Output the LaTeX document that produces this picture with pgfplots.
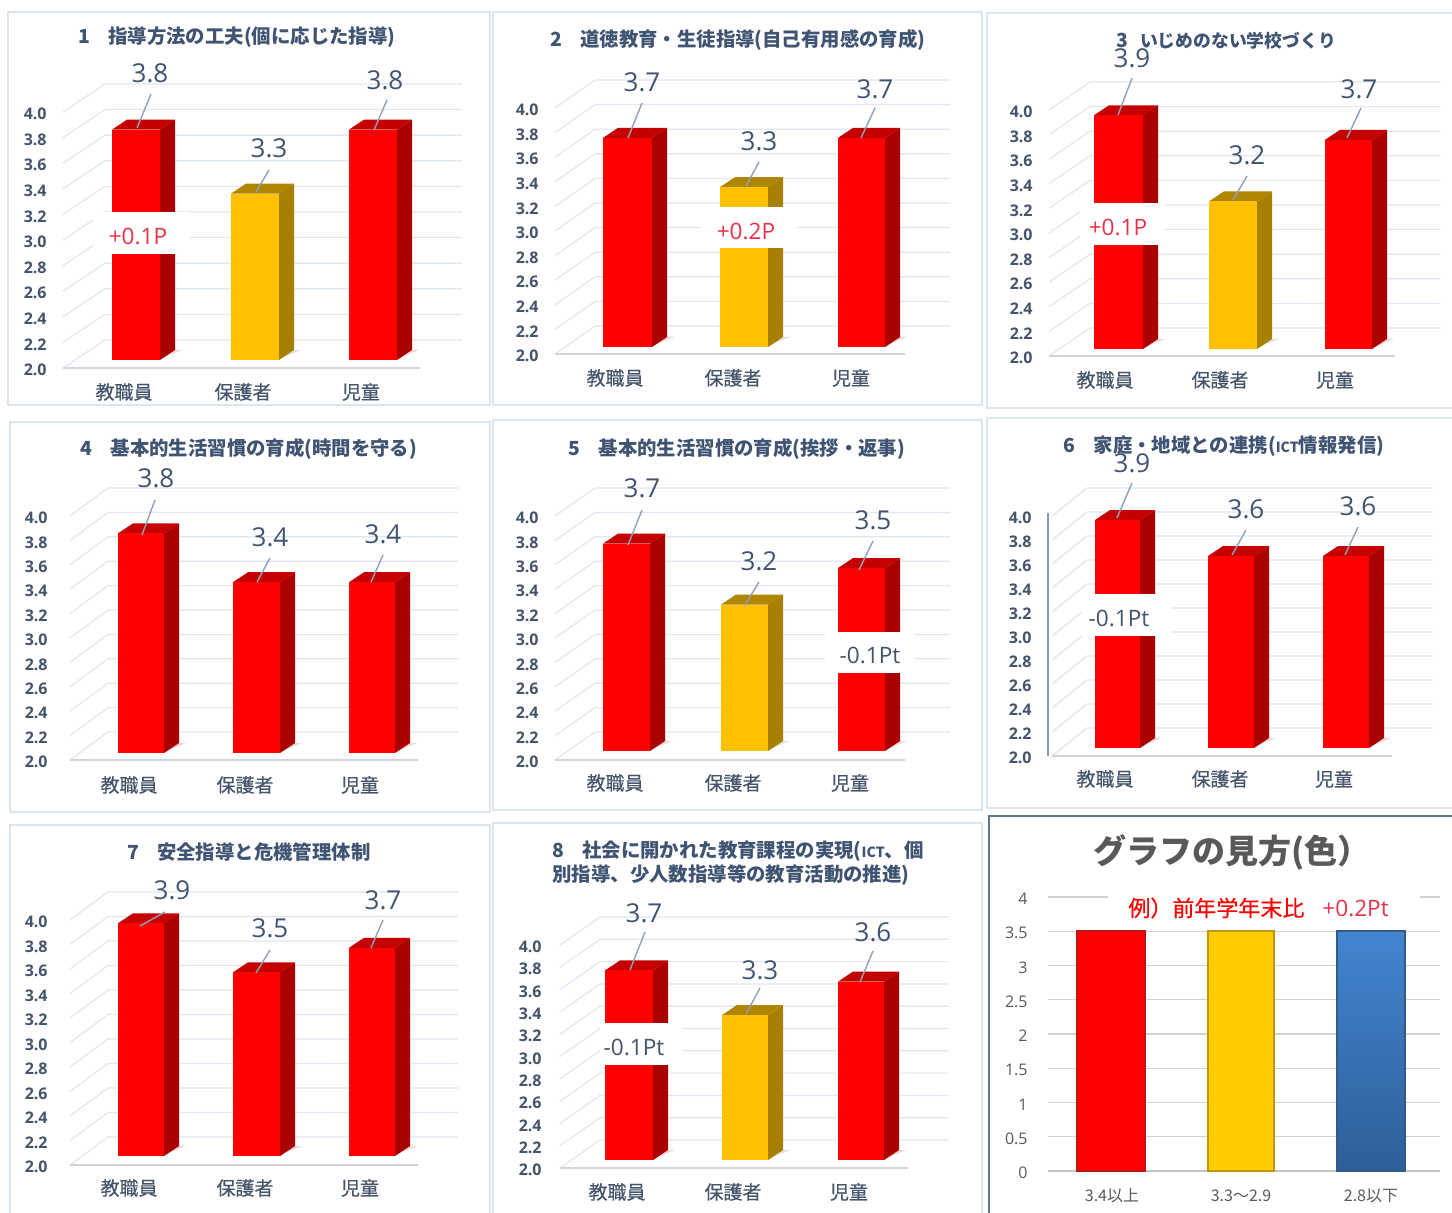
\documentclass[border=0pt]{standalone}
\usepackage{pgfplots}
\pgfplotsset{compat=1.18}
\usepackage{fontspec}
\setmainfont{Open Sans}
\newfontfamily\cjk{Noto Sans CJK JP}
\newfontfamily\cjkm[FakeBold=0.35]{Noto Sans CJK JP}
\definecolor{ink}{HTML}{3F5472}
\definecolor{tickc}{HTML}{44546A}
\definecolor{gridc}{HTML}{DFE7F0}
\definecolor{framec}{HTML}{DCE6EF}
\definecolor{leadc}{HTML}{8FA2BA}
\definecolor{barRfront}{HTML}{FF0000}
\definecolor{barRside}{HTML}{AA0000}
\definecolor{barRtop}{HTML}{C40000}
\definecolor{barRshadow}{HTML}{F2D5D5}
\definecolor{barYfront}{HTML}{FFC000}
\definecolor{barYside}{HTML}{A88000}
\definecolor{barYtop}{HTML}{B08600}
\definecolor{barYshadow}{HTML}{E2E0D8}
\definecolor{plusc}{HTML}{E8324A}
\definecolor{grayt}{HTML}{595959}

% x coordinates are page pixels, y coordinates are the chart's values
\newcommand\OneBar[4]{%
  \pgfmathsetmacro\barxc{(#1+#2)/2}%
  \pgfmathsetmacro\barwdt{#2-#1}%
  \pgfmathsetmacro\barxe{#2+15}%
  \pgfmathsetmacro\barxf{#1+15}%
  \pgfmathsetmacro\barxs{#2+22}%
  \pgfmathsetmacro\barve{#3+10/\pU}%
  \pgfmathsetmacro\barbe{2+10/\pU}%
  \pgfmathsetmacro\barbs{2+1/\pU}%
  \edef\tmp{\noexpand\addplot[fill=#4shadow,draw=none] coordinates {(#2,\barbs) (\barxe,\barbe) (\barxs,\barbe)} --cycle;}\tmp
  \edef\tmp{\noexpand\addplot[fill=#4side,draw=none] coordinates {(#2,2) (\barxe,\barbe) (\barxe,\barve) (#2,#3)} --cycle;}\tmp
  \edef\tmp{\noexpand\addplot[fill=#4top,draw=none] coordinates {(#1,#3) (\barxf,\barve) (\barxe,\barve) (#2,#3)} --cycle;}\tmp
  \edef\tmp{\noexpand\addplot[ybar,bar width=\barwdt,bar shift=0pt,fill=#4front,draw=none] coordinates {(\barxc,#3)};}\tmp
}
\newcommand\DrawGrid{%
  \pgfplotsinvokeforeach{2.0,2.2,2.4,2.6,2.8,3.0,3.2,3.4,3.6,3.8,4.0}{%
    \pgfmathsetmacro\yf{##1-\pO/\pU}%
    \pgfmathsetmacro\yb{##1-\pO/\pU+28/\pU}%
    \edef\tmp{\noexpand\addplot[gridc,line width=0.6pt] coordinates {(\pFx,\yf) (\pBx,\yb) (\pRx,\yb)};}\tmp
  }%
  \pgfmathsetmacro\yf{2-\pO/\pU}%
  \edef\tmp{\noexpand\addplot[gridc!92!black,line width=0.6pt] coordinates {(\pFx,\yf) (\pFe,\yf)};}\tmp
}
\newcommand\Panel[1]{%
  \pgfmathsetlengthmacro\pWd{(\pRx-\pL)*0.5pt}%
  \pgfmathsetlengthmacro\pHt{2*\pU*0.5pt}%
  \pgfmathsetlengthmacro\pAx{\pL*0.5pt}%
  \pgfmathsetlengthmacro\pAy{(1212-\pB)*0.5pt}%
  \pgfmathsetlengthmacro\pYs{-(\pO+2)*0.5pt}%
  \pgfmathsetlengthmacro\pCs{-(\pCy-\pB)*0.5pt}%
  \pgfmathsetmacro\pTv{2+(\pB-\pTy)/\pU}%
  \begin{axis}[
    at={(\pAx,\pAy)},anchor=south west,scale only axis,
    width=\pWd,height=\pHt,clip=false,
    xmin=\pL,xmax=\pRx,ymin=2,ymax=4,
    axis line style={draw=none},tick style={draw=none},major tick length=0pt,
    xtick=\pCats,xticklabels={教職員,保護者,児童},
    ytick={2.0,2.2,2.4,2.6,2.8,3.0,3.2,3.4,3.6,3.8,4.0},
    xticklabel style={anchor=center,inner sep=0pt,yshift=\pCs,font=\cjkm\fontsize{9.5pt}{11pt}\selectfont,text=tickc},
    yticklabel style={anchor=east,inner sep=0pt,yshift=\pYs,font=\bfseries\fontsize{8pt}{10pt}\selectfont,text=tickc,
      /pgf/number format/.cd,fixed,fixed zerofill,precision=1,assume math mode=true},
    title={\pT},
    title style={at={(axis cs:\pTx,\pTv)},anchor=center,align=left,inner sep=0pt,yshift=-6.3pt,
      font=\cjk\bfseries\fontsize{9.7pt}{12pt}\selectfont,text=ink},
  ]
  \DrawGrid
  #1
  \end{axis}%
}
\newcommand\VL[3]{\node[text=ink,font=\fontsize{13pt}{15pt}\selectfont,inner sep=0pt] at (#1,#2) {#3};}
\newcommand\Lead[4]{\draw[leadc,line width=0.7pt] (#1,#2) -- (#3,#4);}
\newcommand\Gap[4]{\fill[white] (#1,#2) rectangle (#3,#4);}
\newcommand\Dl[4]{\node[text=#4,font=\fontsize{11.3pt}{13pt}\selectfont,inner sep=0pt] at (#1,#2) {#3};}

\begin{document}
\begin{tikzpicture}
\path[use as bounding box] (0,0) rectangle (726pt,606pt);
\fill[white] (0,0) rectangle (726pt,606pt);
\begin{scope}[x=0.5pt,y=-0.5pt,yshift=606pt]
  \draw[framec,line width=0.6pt] (8,12) rectangle (490,405);
  \draw[framec,line width=0.6pt] (493,12) rectangle (982,405);
  \draw[framec,line width=0.6pt] (987,13) rectangle (1460,408);
  \draw[framec,line width=0.6pt] (10,422) rectangle (490,812);
  \draw[framec,line width=0.6pt] (493,420) rectangle (982,810);
  \draw[framec,line width=0.6pt] (987,418) rectangle (1460,808);
  \draw[framec,line width=0.6pt] (10,825) rectangle (490,1220);
  \draw[framec,line width=0.6pt] (493,823) rectangle (982,1220);
  \draw[color={rgb,255:red,90;green,122;blue,144},line width=1pt] (989,816) rectangle (1460,1220);
\end{scope}

% 1
\def\pL{47}\def\pB{360}\def\pU{128}\def\pO{8}\def\pFx{63}\def\pBx{105}\def\pRx{462}\def\pFe{420}
\def\pCats{124,243,361}\def\pCy{392}\def\pTx{237}\def\pTy{37}
\def\pT{1\hspace{9pt}指導方法の工夫(個に応じた指導)}
\Panel{\OneBar{112}{160}{3.8}{barR}\OneBar{231}{279}{3.3}{barY}\OneBar{349}{397}{3.8}{barR}}
% 2
\def\pL{539}\def\pB{347}\def\pU{123}\def\pO{7}\def\pFx{555}\def\pBx{595}\def\pRx{950}\def\pFe{905}
\def\pCats{615,733,851}\def\pCy{378}\def\pTx{738}\def\pTy{39}
\def\pT{2\hspace{9pt}道徳教育・生徒指導(自己有用感の育成)}
\Panel{\OneBar{603}{652}{3.7}{barR}\OneBar{720}{768}{3.3}{barY}\OneBar{838}{885}{3.7}{barR}}
% 3
\def\pL{1033}\def\pB{349}\def\pU{123}\def\pO{7}\def\pFx{1049}\def\pBx{1090}\def\pRx{1440}\def\pFe{1395}
\def\pCats{1105,1220,1335}\def\pCy{380}\def\pTx{1226}\def\pTy{40}
\def\pT{3\hspace{6pt}{\fontsize{8.9pt}{12pt}\selectfont いじめのない学校づくり}}
\Panel{\OneBar{1094}{1143}{3.9}{barR}\OneBar{1209}{1257}{3.2}{barY}\OneBar{1325}{1372}{3.7}{barR}}
% 4
\def\pL{48}\def\pB{753}\def\pU{122}\def\pO{7}\def\pFx{70}\def\pBx{108}\def\pRx{458}\def\pFe{418}
\def\pCats{129,245,360}\def\pCy{785}\def\pTx{249}\def\pTy{448}
\def\pT{4\hspace{9pt}基本的生活習慣の育成(時間を守る)}
\Panel{\OneBar{118}{164}{3.8}{barR}\OneBar{233}{280}{3.4}{barR}\OneBar{349}{395}{3.4}{barR}}
% 5
\def\pL{539}\def\pB{751}\def\pU{122}\def\pO{9}\def\pFx{555}\def\pBx{595}\def\pRx{950}\def\pFe{905}
\def\pCats{615,733,850}\def\pCy{783}\def\pTx{737}\def\pTy{448}
\def\pT{5\hspace{9pt}基本的生活習慣の育成(挨拶・返事)}
\Panel{\OneBar{603}{650}{3.7}{barR}\OneBar{721}{768}{3.2}{barY}\OneBar{838}{885}{3.5}{barR}}
% 6
\def\pL{1032}\def\pB{748}\def\pU{120}\def\pO{8}\def\pFx{1052}\def\pBx{1087}\def\pRx{1432}\def\pFe{1392}
\def\pCats{1105,1220,1334}\def\pCy{779}\def\pTx{1224}\def\pTy{446}
\def\pT{6\hspace{9pt}家庭・地域との連携({\fontsize{7pt}{9pt}\selectfont ICT}情報発信)}
\Panel{\OneBar{1095}{1140}{3.9}{barR}\OneBar{1208}{1254}{3.6}{barR}\OneBar{1323}{1369}{3.6}{barR}}
% 7
\def\pL{48}\def\pB{1156}\def\pU{122.5}\def\pO{9}\def\pFx{70}\def\pBx{108}\def\pRx{458}\def\pFe{418}
\def\pCats{129,245,360}\def\pCy{1188}\def\pTx{249}\def\pTy{851}
\def\pT{7\hspace{9pt}安全指導と危機管理体制}
\Panel{\OneBar{118}{164}{3.9}{barR}\OneBar{233}{280}{3.5}{barR}\OneBar{349}{395}{3.7}{barR}}
% 8
\def\pL{542}\def\pB{1160}\def\pU{111.5}\def\pO{8}\def\pFx{560}\def\pBx{600}\def\pRx{948}\def\pFe{908}
\def\pCats{617,733,849}\def\pCy{1192}\def\pTx{738}\def\pTy{863}
\def\pT{8\hspace{9pt}社会に開かれた教育課程の実現({\fontsize{7pt}{9pt}\selectfont ICT}、個\\別指導、少人数指導等の教育活動の推進)}
\Panel{\OneBar{605}{653}{3.7}{barR}\OneBar{722}{768}{3.3}{barY}\OneBar{838}{884}{3.6}{barR}}

% 9: how to read the colours
\begin{axis}[
  at={(514pt,20.5pt)},anchor=south west,scale only axis,
  width=206pt,height=137pt,clip=false,
  xmin=1028,xmax=1440,ymin=0,ymax=4,
  axis line style={draw=none},tick style={draw=none},major tick length=0pt,
  xtick={1112,1241,1371},xticklabels={3.4以上,3.3〜2.9,2.8以下},
  ytick={0,0.5,1,1.5,2,2.5,3,3.5,4},
  xticklabel style={anchor=center,inner sep=0pt,yshift=-12.5pt,font=\cjk\fontsize{8pt}{10pt}\selectfont,text=grayt},
  yticklabel style={anchor=east,inner sep=0pt,yshift=-1pt,font=\fontsize{8pt}{10pt}\selectfont,text=grayt,
    /pgf/number format/.cd,fixed,precision=1,assume math mode=true},
  title={グラフの見方(色）},
  title style={at={(axis cs:1232,4.66)},anchor=center,inner sep=0pt,yshift=-6.5pt,
    font=\cjk\bfseries\fontsize{16.5pt}{18pt}\selectfont,text=grayt},
]
\addplot[gray!45,line width=0.6pt] coordinates {(1048,0) (1440,0)};
\addplot[gray!35,line width=0.6pt] coordinates {(1048,0.5) (1440,0.5)};
\addplot[gray!35,line width=0.6pt] coordinates {(1048,1) (1440,1)};
\addplot[gray!35,line width=0.6pt] coordinates {(1048,1.5) (1440,1.5)};
\addplot[gray!35,line width=0.6pt] coordinates {(1048,2) (1440,2)};
\addplot[gray!35,line width=0.6pt] coordinates {(1048,2.5) (1440,2.5)};
\addplot[gray!35,line width=0.6pt] coordinates {(1048,3) (1440,3)};
\addplot[gray!35,line width=0.6pt] coordinates {(1048,3.5) (1440,3.5)};
\addplot[gray!35,line width=0.6pt] coordinates {(1048,4) (1108,4)};
\addplot[gray!35,line width=0.6pt] coordinates {(1420,4) (1440,4)};
\addplot[ybar,bar width=68,bar shift=0pt,fill=red,draw={rgb,255:red,190;green,20;blue,20},line width=0.8pt] coordinates {(1111,3.5)};
\addplot[ybar,bar width=66,bar shift=0pt,fill={rgb,255:red,255;green,204;blue,0},draw={rgb,255:red,190;green,150;blue,20},line width=0.8pt] coordinates {(1241,3.5)};
\addplot[ybar,bar width=68,bar shift=0pt,top color={rgb,255:red,66;green,133;blue,208},bottom color={rgb,255:red,46;green,94;blue,152},draw={rgb,255:red,50;green,90;blue,140},line width=0.8pt] coordinates {(1371,3.5)};
\end{axis}

\begin{scope}[x=0.5pt,y=-0.5pt,yshift=606pt]
  % 1
  \Gap{93}{212}{190}{254}\Dl{138}{236}{+0.1P}{plusc}
  \Lead{151}{94}{137}{128}\Lead{269}{170}{256}{192}\Lead{387}{100}{374}{130}
  \VL{150}{73}{3.8}\VL{269}{148}{3.3}\VL{385}{80}{3.8}
  % 2
  \Gap{700}{207}{797}{248}\Dl{746}{231}{+0.2P}{plusc}
  \Lead{642}{103}{628}{138}\Lead{759}{162}{746}{186}\Lead{875}{108}{861}{138}
  \VL{642}{82}{3.7}\VL{759}{141}{3.3}\VL{875}{89}{3.7}
  % 3
  \Gap{1080}{203}{1165}{245}\Dl{1118}{227}{+0.1P}{plusc}
  \Lead{1132}{78}{1118}{115}\Lead{1247}{176}{1233}{200}\Lead{1361}{108}{1347}{138}
  \VL{1132}{58}{3.9}\VL{1247}{155}{3.2}\VL{1359}{89}{3.7}
  % 4
  \Lead{155}{500}{142}{535}\Lead{270}{558}{257}{582}\Lead{383}{555}{371}{582}
  \VL{156}{478}{3.8}\VL{270}{537}{3.4}\VL{383}{534}{3.4}
  % 5
  \Gap{825}{632}{915}{673}\Dl{870}{655}{-0.1Pt}{tickc}
  \Lead{642}{510}{628}{545}\Lead{759}{582}{745}{605}\Lead{873}{541}{859}{570}
  \VL{642}{488}{3.7}\VL{759}{561}{3.2}\VL{873}{520}{3.5}
  % 6
  \draw[color={rgb,255:red,130;green,155;blue,185},line width=0.8pt] (1048,513) -- (1048,756);
  \Gap{1082}{594}{1170}{636}\Dl{1119}{618}{-0.1Pt}{tickc}
  \Lead{1132}{483}{1117}{518}\Lead{1246}{530}{1232}{555}\Lead{1358}{527}{1345}{555}
  \VL{1132}{463}{3.9}\VL{1246}{509}{3.6}\VL{1358}{506}{3.6}
  % 7
  \Lead{165}{912}{140}{926}\Lead{270}{950}{256}{973}\Lead{383}{920}{371}{948}
  \VL{172}{890}{3.9}\VL{270}{928}{3.5}\VL{383}{900}{3.7}
  % 8
  \Gap{600}{1023}{683}{1065}\Dl{634}{1047}{-0.1Pt}{tickc}
  \Lead{645}{932}{630}{970}\Lead{760}{988}{746}{1014}\Lead{873}{951}{860}{982}
  \VL{644}{913}{3.7}\VL{760}{970}{3.3}\VL{873}{932}{3.6}
  % 9
  \node[text=red,inner sep=0pt,anchor=west,font=\cjkm\fontsize{11pt}{13pt}\selectfont] at (1128,908) {例）前年学年末比};
  \node[text=plusc,inner sep=0pt,anchor=west,font=\fontsize{11.3pt}{13pt}\selectfont] at (1322,908) {+0.2Pt};
\end{scope}
\end{tikzpicture}
\end{document}
